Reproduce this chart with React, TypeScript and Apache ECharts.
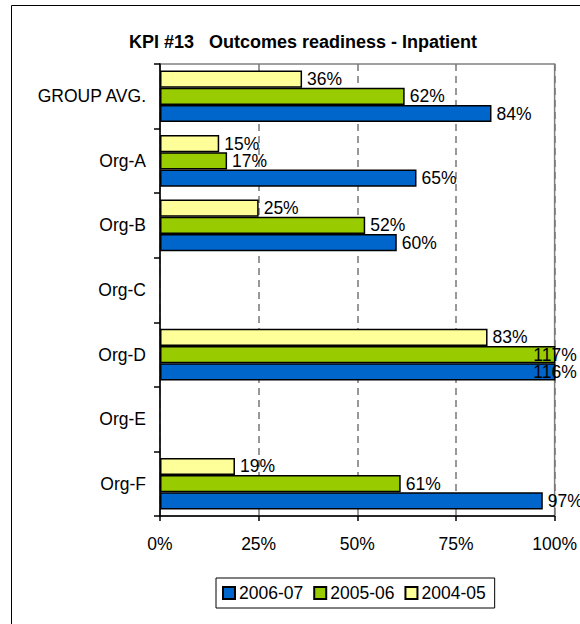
import React, { useEffect, useRef } from "react";
import * as echarts from "echarts";

const categories = ["GROUP AVG.", "Org-A", "Org-B", "Org-C", "Org-D", "Org-E", "Org-F"];
const seriesNames = ["2004-05", "2005-06", "2006-07"];
const values0405: (number | null)[] = [36, 15, 25, null, 83, null, 19];
const values0506: (number | null)[] = [62, 17, 52, null, 117, null, 61];
const values0607: (number | null)[] = [84, 65, 60, null, 116, null, 97];
const legendOrder = ["2006-07", "2005-06", "2004-05"];
const xTicks = { min: 0, max: 100, interval: 25 };
const titleText = "KPI #13   Outcomes readiness - Inpatient";

const colors = ["#FFFF99", "#99CC00", "#0066CC"];
const FONT = "'Liberation Sans', Arial, sans-serif";
const FS = 17.5;

function buildData(vals: (number | null)[]) {
  return vals.map((v) => {
    if (v === null) return null;
    if (v > xTicks.max) {
      return { value: v, label: { position: "right", offset: [-27, 0] } };
    }
    return v;
  });
}

export default function App() {
  const ref = useRef<HTMLDivElement>(null);
  useEffect(() => {
    if (!ref.current) return;
    const chart = echarts.init(ref.current, undefined, { renderer: "svg" });
    const allVals = [values0405, values0506, values0607];
    chart.setOption({
      animation: false,
      backgroundColor: "#fff",
      textStyle: { fontFamily: FONT },
      graphic: [
        {
          type: "rect",
          z: -10,
          shape: { x: 11.5, y: 5.5, width: 700, height: 700 },
          style: { fill: "none", stroke: "#000", lineWidth: 1 },
        },
        {
          type: "text",
          x: 303,
          y: 42,
          style: {
            text: titleText,
            fontFamily: FONT,
            fontSize: 18,
            fontWeight: "bold",
            fill: "#000",
            textAlign: "center",
            textVerticalAlign: "middle",
          },
        },
      ],
      grid: {
        left: 160,
        top: 64,
        width: 401,
        height: 452,
        show: true,
        borderColor: "#808080",
        borderWidth: 1.5,
        backgroundColor: "transparent",
      },
      legend: {
        data: legendOrder,
        left: 216,
        top: 578,
        icon: "rect",
        itemWidth: 12,
        itemHeight: 12,
        itemGap: 10,
        padding: [6, 9, 6, 6],
        borderColor: "#000",
        borderWidth: 1,
        textStyle: { fontSize: FS, color: "#000", fontFamily: FONT, padding: [0, 0, 0, -1] },
      },
      xAxis: {
        type: "value",
        min: xTicks.min,
        max: xTicks.max,
        interval: xTicks.interval,
        axisLine: { show: true, lineStyle: { color: "#000", width: 1.5 } },
        axisTick: { show: true, length: 5, lineStyle: { color: "#000", width: 1.5 } },
        axisLabel: { formatter: "{value}%", fontSize: FS, color: "#000", margin: 19, fontFamily: FONT },
        splitLine: { show: true, lineStyle: { color: "#777", type: [7, 5], width: 1.5 } },
      },
      yAxis: {
        type: "category",
        inverse: true,
        data: categories,
        axisLine: { show: true, lineStyle: { color: "#000", width: 1.5 } },
        axisTick: { show: true, length: 6, lineStyle: { color: "#000", width: 1.5 } },
        axisLabel: { fontSize: FS, color: "#000", margin: 14, fontFamily: FONT },
        splitLine: { show: false },
      },
      series: seriesNames.map((name, i) => ({
        name,
        type: "bar",
        data: buildData(allVals[i]),
        barGap: "0%",
        barCategoryGap: "20%",
        clip: true,
        itemStyle: { color: colors[i], borderColor: "#000", borderWidth: 1.5 },
        label: {
          show: true,
          position: "right",
          distance: 5,
          formatter: "{c}%",
          fontSize: FS,
          color: "#000",
          fontFamily: FONT,
        },
      })),
    });
    return () => chart.dispose();
  }, []);
  return (
    <div
      ref={ref}
      style={{ position: "absolute", left: 0, top: 0, width: 580, height: 624 }}
    />
  );
}
